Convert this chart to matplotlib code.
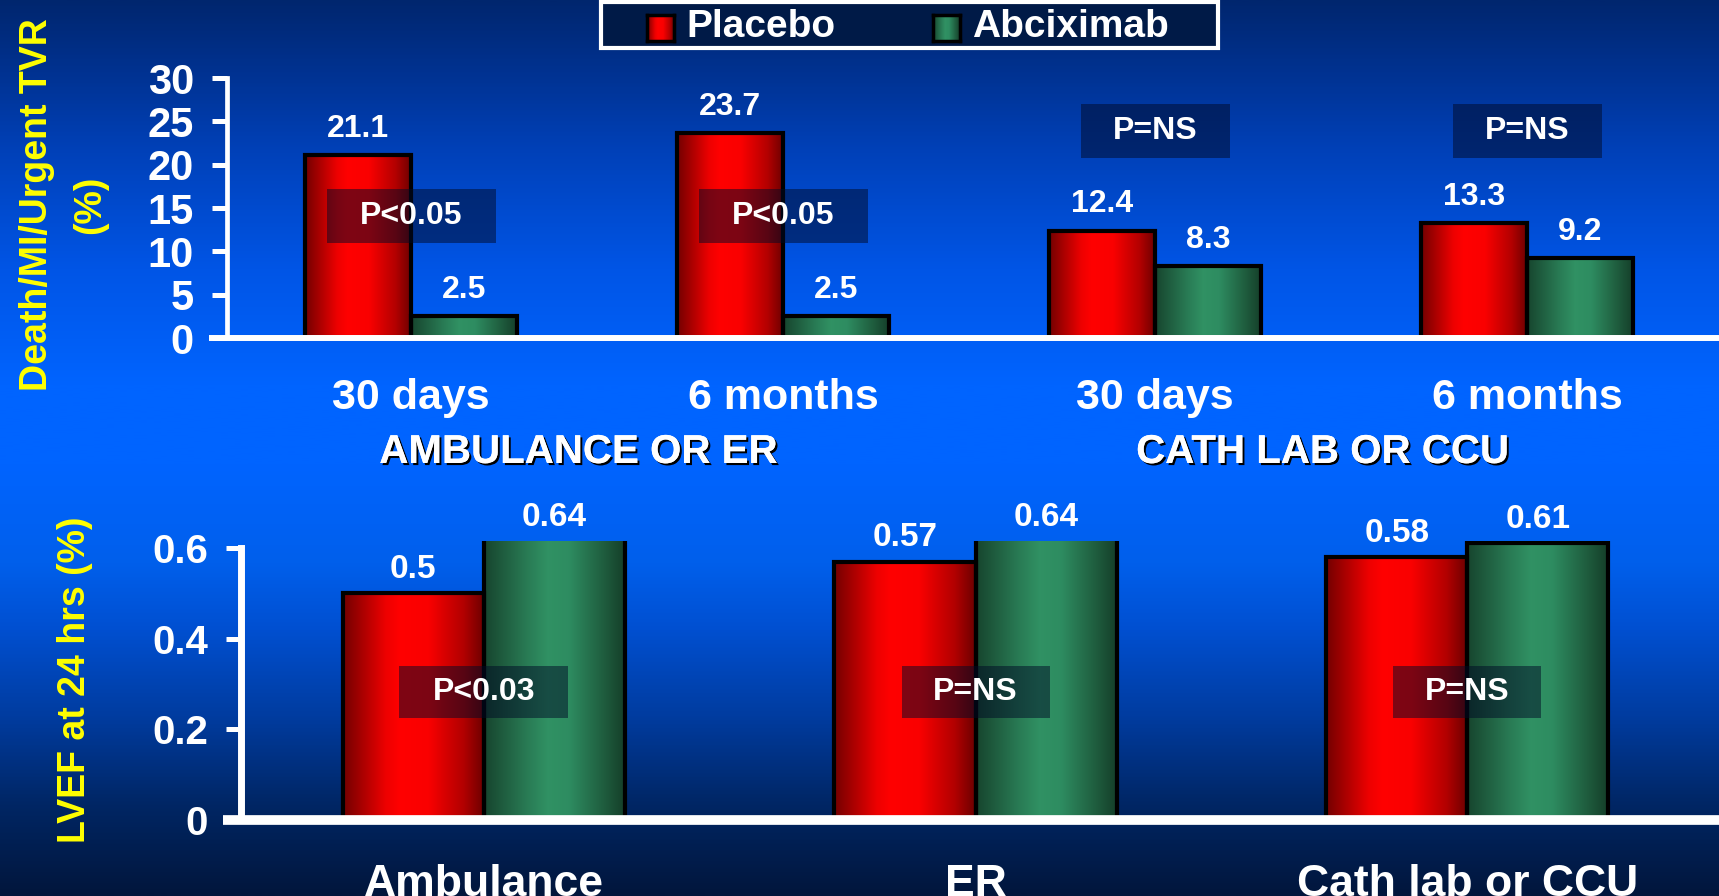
import numpy as np
import matplotlib
matplotlib.use("Agg")
import matplotlib.pyplot as plt
import matplotlib.transforms as mtransforms
from matplotlib.patches import Rectangle
from matplotlib.lines import Line2D
from matplotlib.colors import LinearSegmentedColormap
import matplotlib.patheffects as pe

plt.rcParams['font.family'] = ['Liberation Sans', 'DejaVu Sans']
plt.rcParams['font.weight'] = 'bold'

# ---- data ----
series = ["Placebo", "Abciximab"]

top_periods = ["30 days", "6 months", "30 days", "6 months"]
top_settings = ["AMBULANCE OR ER", "CATH LAB OR CCU"]
top_placebo = [21.1, 23.7, 12.4, 13.3]
top_abcix = [2.5, 2.5, 8.3, 9.2]
top_pvals = ["P<0.05", "P<0.05", "P=NS", "P=NS"]
top_ylabel = "Death/MI/Urgent TVR\n(%)"
top_yticks = [0, 5, 10, 15, 20, 25, 30]

bot_sites = ["Ambulance", "ER", "Cath lab or CCU"]
bot_placebo = [0.5, 0.57, 0.58]
bot_abcix = [0.64, 0.64, 0.61]
bot_pvals = ["P<0.03", "P=NS", "P=NS"]
bot_ylabel = "LVEF at 24 hrs (%)"
bot_yticks = [0, 0.2, 0.4, 0.6]

# ---- figure ----
W, H, DPI = 1719, 896, 100
fig = plt.figure(figsize=(W / DPI, H / DPI), dpi=DPI)

# vertical blue backdrop
bg = fig.add_axes([0, 0, 1, 1], zorder=-10)
bg.set_axis_off()
stops = [(0.00, (2, 22, 60)), (0.10, (0, 38, 100)), (0.20, (0, 60, 160)),
         (0.30, (0, 80, 210)), (0.37, (0, 95, 235)), (0.48, (0, 100, 255)),
         (0.57, (0, 100, 255)), (0.70, (0, 85, 230)), (0.83, (0, 65, 185)),
         (0.92, (0, 50, 145)), (1.00, (0, 38, 110))]
bg_cmap = LinearSegmentedColormap.from_list(
    "bg", [(p, tuple(c / 255 for c in rgb)) for p, rgb in stops])
bg.imshow(np.linspace(0, 1, 512)[:, None], cmap=bg_cmap, aspect="auto",
          extent=(0, 1, 0, 1), interpolation="bilinear")
bg.set_xlim(0, 1)
bg.set_ylim(1, 0)

red_cmap = LinearSegmentedColormap.from_list("red", [
    (0.0, (0.45, 0, 0)), (0.3, (0.93, 0, 0)), (0.4, (1, 0, 0)),
    (0.6, (0.98, 0, 0)), (0.85, (0.7, 0, 0)), (1.0, (0.42, 0, 0))])
green_cmap = LinearSegmentedColormap.from_list("green", [
    (0.0, (0.09, 0.27, 0.18)), (0.3, (0.16, 0.48, 0.33)), (0.45, (0.19, 0.57, 0.39)),
    (0.6, (0.18, 0.55, 0.38)), (0.85, (0.12, 0.36, 0.24)), (1.0, (0.08, 0.24, 0.16))])
grad = np.linspace(0, 1, 256)[None, :]


def gradient_bars(ax, xs, vals, width, cmap, lw):
    bars = ax.bar(xs, vals, width, facecolor="none", edgecolor="black",
                  linewidth=lw, zorder=3)
    for b in bars:
        x0, w, h = b.get_x(), b.get_width(), b.get_height()
        # shaded fill spans exactly the bar; the axes box clips tall bars
        ax.imshow(grad, cmap=cmap, aspect="auto", extent=(x0, x0 + w, 0, h),
                  interpolation="bilinear", zorder=2)
    return bars


def pbox(ax, x, y, text, w, h, fs):
    tr = mtransforms.ScaledTranslation(x, y, ax.transData)
    ax.add_patch(Rectangle((-w / 2, -h / 2), w, h, transform=tr,
                           facecolor=(0, 0.04, 0.15), alpha=0.5,
                           edgecolor="none", zorder=4, clip_on=False))
    ax.text(x, y, text, color="white", fontsize=fs, ha="center", va="center",
            zorder=5)


def style_axis(ax, spine_lw, base_lw, tick_len, tick_w, tick_fs, pad, y0, y1):
    ax.set_facecolor("none")
    for s in ["top", "right", "bottom"]:
        ax.spines[s].set_visible(False)
    ax.spines["left"].set_color("white")
    ax.spines["left"].set_linewidth(spine_lw)
    ax.spines["left"].set_bounds(y0, y1)
    ax.tick_params(axis="y", colors="white", length=tick_len, width=tick_w,
                   labelsize=tick_fs, pad=pad)
    ax.tick_params(axis="x", length=0)
    ax.add_line(Line2D([-0.012, 1.0], [0, 0], transform=ax.transAxes,
                       color="white", linewidth=base_lw, clip_on=False,
                       solid_capstyle="butt", zorder=6))


# ---- top panel ----
ax1 = fig.add_axes([227 / W, 1 - 338 / H, 1 - 227 / W, (338 - 78) / H])
x1 = np.arange(len(top_periods))
w1 = 0.285
gradient_bars(ax1, x1 - w1 / 2, top_placebo, w1, red_cmap, 3)
gradient_bars(ax1, x1 + w1 / 2, top_abcix, w1, green_cmap, 3)
ax1.set_xlim(-0.495, 3.516)
ax1.set_ylim(0, 30)
style_axis(ax1, 3.4, 4.3, 10.8, 3.6, 30, 13, 0, 30)
ax1.set_yticks(top_yticks)
ax1.set_xticks(x1)
ax1.set_xticklabels(top_periods, color="white", fontsize=31)
ax1.tick_params(axis="x", pad=29)

for i in range(len(top_periods)):
    for xc, v in ((x1[i] - w1 / 2, top_placebo[i]), (x1[i] + w1 / 2, top_abcix[i])):
        ax1.annotate(f"{v:g}", (xc, v), xytext=(0, 13), textcoords="offset points",
                     ha="center", va="baseline", color="white", fontsize=23,
                     zorder=5)
box_levels_top = [14.1, 14.1, 23.9, 23.9]
box_widths_top = [169, 169, 149, 149]
for i, p in enumerate(top_pvals):
    pbox(ax1, x1[i], box_levels_top[i], p, box_widths_top[i], 54, 23)

# setting captions under each pair of periods
cap_tr = mtransforms.blended_transform_factory(ax1.transData, fig.transFigure)
for k, name in enumerate(top_settings):
    xm = (x1[2 * k] + x1[2 * k + 1]) / 2 - 0.05
    ax1.text(xm, 1 - 463 / H, name, transform=cap_tr, color="white", fontsize=29,
             ha="center", va="baseline",
             path_effects=[pe.withSimplePatchShadow(offset=(1.5, -1.5),
                                                    shadow_rgbFace="black",
                                                    alpha=1.0),
                           pe.Normal()])

fig.text(63.5 / W, 1 - 205 / H, top_ylabel, rotation=90, color="#ffff00",
         fontsize=27, ha="center", va="center", multialignment="center",
         linespacing=1.6)

# ---- bottom panel ----
ytop2 = 0.615
ax2 = fig.add_axes([241 / W, 1 - 820 / H, 1 - 241 / W, (ytop2 * 453.3) / H])
x2 = np.arange(len(bot_sites))
w2 = 0.287
gradient_bars(ax2, x2 - w2 / 2, bot_placebo, w2, red_cmap, 3)
gradient_bars(ax2, x2 + w2 / 2, bot_abcix, w2, green_cmap, 3)
ax2.set_xlim(-0.494, 2.512)
ax2.set_ylim(0, ytop2)
style_axis(ax2, 5, 7, 10.8, 3.6, 29, 13, 0, 0.6)
ax2.set_yticks(bot_yticks)
ax2.set_yticklabels([f"{t:g}" for t in bot_yticks])
ax2.set_xticks(x2)
ax2.set_xticklabels(bot_sites, color="white", fontsize=32)
ax2.tick_params(axis="x", pad=32)

for i in range(len(bot_sites)):
    for xc, v in ((x2[i] - w2 / 2, bot_placebo[i]), (x2[i] + w2 / 2, bot_abcix[i])):
        ax2.annotate(f"{v:g}", (xc, min(v, ytop2)), xytext=(0, 11),
                     textcoords="offset points", ha="center", va="baseline",
                     color="white", fontsize=24, zorder=5)
box_widths_bot = [169, 148, 148]
for i, p in enumerate(bot_pvals):
    pbox(ax2, x2[i], 0.282, p, box_widths_bot[i], 52, 23)

fig.text(75 / W, 1 - 680 / H, bot_ylabel, rotation=90, color="#ffff00",
         fontsize=27, ha="center", va="center")

# ---- legend strip ----
fig.add_artist(Rectangle((601 / W, 1 - 48 / H), (1218 - 601) / W, 46 / H,
                         transform=fig.transFigure, facecolor=(0.0, 0.1, 0.28),
                         edgecolor="white", linewidth=3, zorder=8))
leg_items = [(series[0], red_cmap, 647, 686), (series[1], green_cmap, 933, 972)]
for name, cmap, mx, tx in leg_items:
    lax = fig.add_axes([mx / W, 1 - 41 / H, 27 / W, 26 / H], zorder=9)
    lax.imshow(grad, cmap=cmap, aspect="auto", extent=(0, 1, 0, 1))
    lax.set_xticks([])
    lax.set_yticks([])
    for s in lax.spines.values():
        s.set_color("black")
        s.set_linewidth(2.5)
    fig.text(tx / W, 1 - 37 / H, name, color="white", fontsize=28,
             ha="left", va="baseline", zorder=10)

fig.savefig("out.png", dpi=DPI)
